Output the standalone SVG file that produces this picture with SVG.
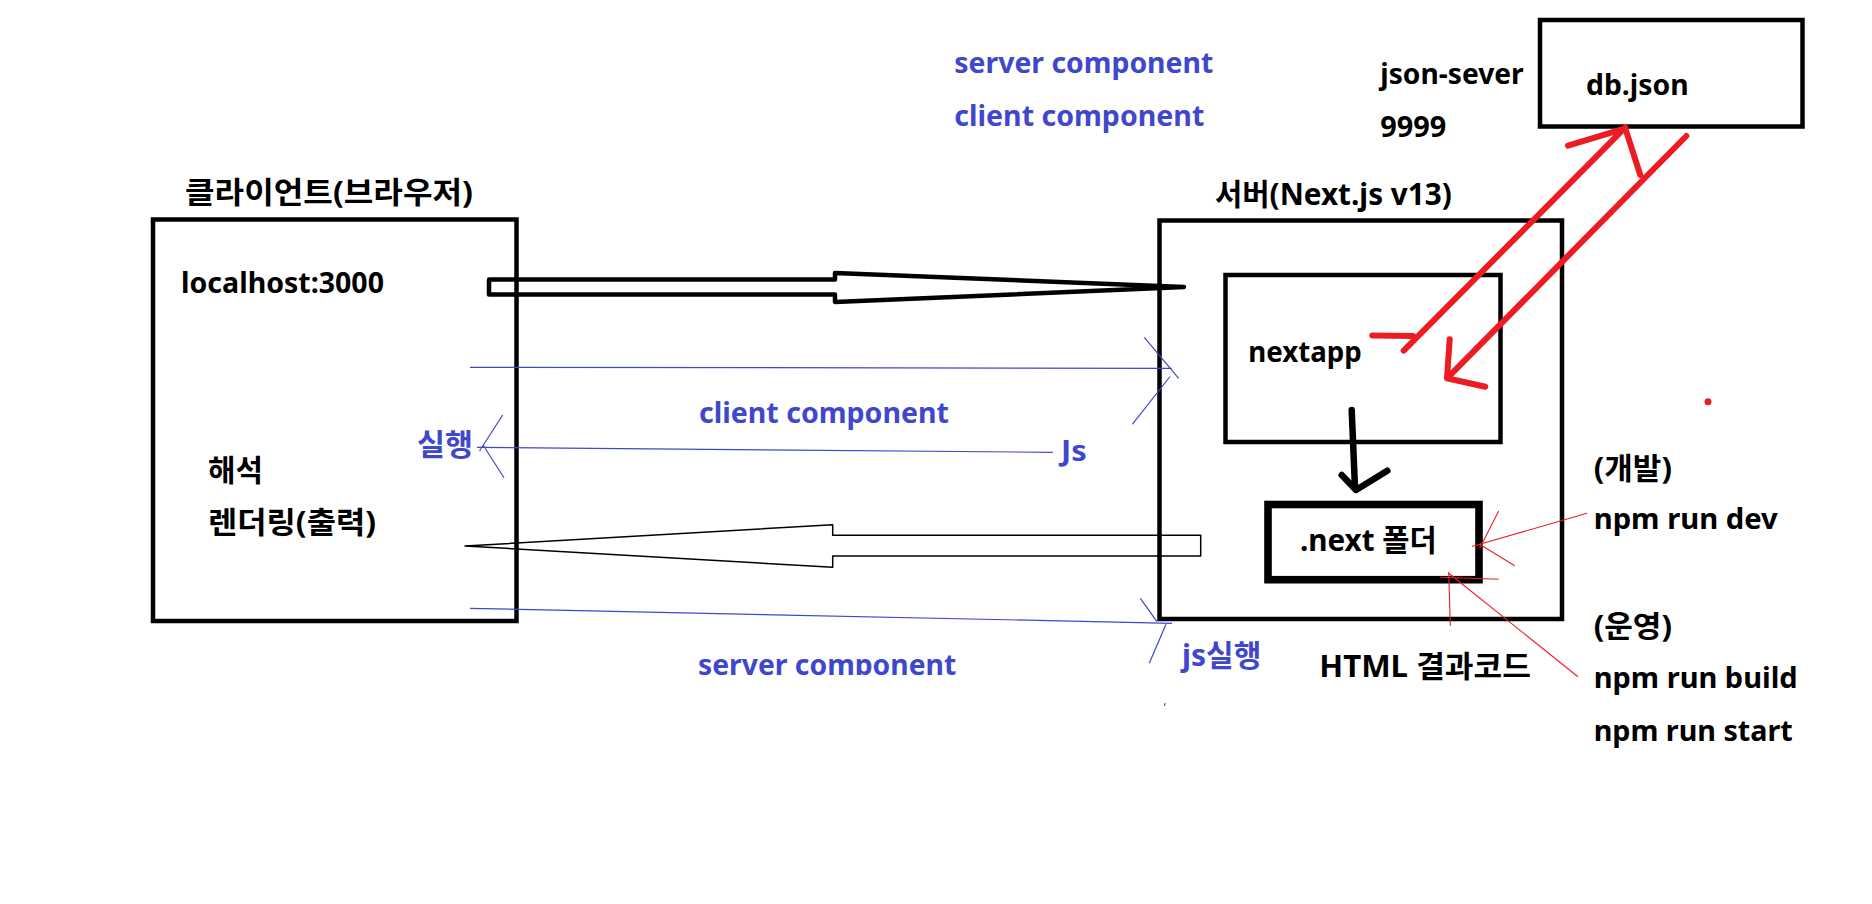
<svg xmlns="http://www.w3.org/2000/svg" width="1872" height="904" viewBox="0 0 1872 904">
<style>
text{font-family:"Noto Sans","Noto Sans CJK KR",sans-serif;font-weight:700;fill:#000}
.ko{font-size:30px}
.la{font-size:28px}
.blue{fill:#3F48CC}
.box{fill:none;stroke:#000;stroke-width:4.5}
.thin-b{fill:none;stroke:#3F48CC;stroke-width:1.2}
.thin-r{fill:none;stroke:#ED1C24;stroke-width:1.1}
.thick-r{fill:none;stroke:#ED1C24;stroke-width:6;stroke-linecap:round;stroke-linejoin:round}
</style>
<defs>
<clipPath id="cutBottom"><rect x="0" y="0" width="1872" height="675"/></clipPath>
</defs>
<rect width="1872" height="904" fill="#fff"/>

<g id="client">
<text class="ko" x="185" y="203" textLength="288" lengthAdjust="spacingAndGlyphs">클라이언트(브라우저)</text>
<rect class="box" x="153" y="219.5" width="363.5" height="401.5"/>
<text class="la" x="181" y="292.7" textLength="203" lengthAdjust="spacingAndGlyphs">localhost:3000</text>
<text class="ko" x="208" y="481" textLength="55" lengthAdjust="spacingAndGlyphs">해석</text>
<text class="ko" x="208" y="533" textLength="168" lengthAdjust="spacingAndGlyphs">렌더링(출력)</text>
</g>

<g id="server">
<text class="ko" x="1215" y="205" textLength="236.7" lengthAdjust="spacingAndGlyphs">서버(Next.js v13)</text>
<rect class="box" x="1159.5" y="220.5" width="402.5" height="398.5"/>
</g>

<g id="nextapp">
<rect class="box" x="1225.5" y="275" width="275" height="167"/>
<text class="la" x="1248.3" y="361.7" textLength="113.4" lengthAdjust="spacingAndGlyphs">nextapp</text>
</g>

<g id="next-folder">
<rect x="1268" y="504.5" width="211" height="75.2" fill="none" stroke="#000" stroke-width="7.6"/>
<text class="ko" x="1300" y="550.7" textLength="136.7" lengthAdjust="spacingAndGlyphs">.next 폴더</text>
</g>

<g id="db-json">
<rect class="box" x="1540" y="20" width="262.5" height="106.5"/>
<text class="la" x="1586" y="95" textLength="102.7" lengthAdjust="spacingAndGlyphs">db.json</text>
</g>

<g id="labels">
<text class="la blue" x="954.3" y="73.3" textLength="259" lengthAdjust="spacingAndGlyphs">server component</text>
<text class="la blue" x="954.3" y="126" textLength="250" lengthAdjust="spacingAndGlyphs">client component</text>
<text class="la" x="1380.3" y="84" textLength="143.4" lengthAdjust="spacingAndGlyphs">json-sever</text>
<text class="la" x="1380.3" y="136.7" textLength="66" lengthAdjust="spacingAndGlyphs">9999</text>
<text class="ko blue" x="417" y="455" textLength="56" lengthAdjust="spacingAndGlyphs">실행</text>
<text class="la blue" x="699" y="422.7" textLength="250" lengthAdjust="spacingAndGlyphs">client component</text>
<text class="la blue" x="1061" y="460.7" textLength="25.7" lengthAdjust="spacingAndGlyphs">Js</text>
<text class="la blue" x="698" y="675" textLength="258.3" lengthAdjust="spacingAndGlyphs" clip-path="url(#cutBottom)">server component</text>
<text class="ko blue" x="1182" y="666" textLength="79.3" lengthAdjust="spacingAndGlyphs">js실행</text>
<text class="ko" x="1319.3" y="677.3" textLength="211.7" lengthAdjust="spacingAndGlyphs">HTML 결과코드</text>
<text class="ko" x="1593.7" y="479.3" textLength="78.3" lengthAdjust="spacingAndGlyphs">(개발)</text>
<text class="la" x="1593.7" y="529.3" textLength="184" lengthAdjust="spacingAndGlyphs">npm run dev</text>
<text class="ko" x="1593.7" y="636.7" textLength="78.3" lengthAdjust="spacingAndGlyphs">(운영)</text>
<text class="la" x="1593.7" y="688.3" textLength="204" lengthAdjust="spacingAndGlyphs">npm run build</text>
<text class="la" x="1593.7" y="741" textLength="199" lengthAdjust="spacingAndGlyphs">npm run start</text>
</g>

<g id="connectors">
<!-- big request arrow -->
<polygon points="489,279.5 835,279.5 835,273 1184,287 835,302 835,294.5 489,294.5" fill="none" stroke="#000" stroke-width="4.5" stroke-linejoin="round"/>
<!-- HTML response arrow -->
<polygon points="1200.7,535.3 832.7,535.3 832.7,524.7 465,546 832.7,567.3 832.7,556 1200.7,556" fill="none" stroke="#000" stroke-width="1.5" stroke-linejoin="round"/>
<!-- blue line 1 -->
<path class="thin-b" d="M470,367.3 L1171.7,368.3 M1144.3,337.3 L1178.7,378.3 M1170,376.5 L1132.3,424.3"/>
<!-- blue line 2 (Js -> 실행) -->
<path class="thin-b" d="M477,447.3 L1052.7,452.3 M502.7,415 L479.5,451 M483,445 L504,477.7"/>
<!-- blue line 3 -->
<path class="thin-b" d="M470,608.3 L1172,623.3 M1140.3,598.3 L1157,621.7 M1166,624.3 L1149.3,663.3 M1165,703 L1164.5,706"/>
<!-- nextapp -> .next -->
<path d="M1351.7,410 L1355,488 M1341.7,475 L1356,490 L1387.3,470.7" fill="none" stroke="#000" stroke-width="6.5" stroke-linecap="round" stroke-linejoin="round"/>
<!-- red request to db.json -->
<path class="thick-r" d="M1403.7,350.7 L1625.3,127.3 M1568,145.7 L1625.3,128.3 L1640.3,175 M1372.3,335.5 L1413,336"/>
<!-- red response from db.json -->
<path class="thick-r" d="M1686.3,136 L1448.7,376.7 M1449.7,339.3 L1447,378.3 L1485.3,386.7"/>
<circle cx="1708" cy="401.7" r="3.5" fill="#ED1C24"/>
<!-- thin red pointers to .next -->
<path class="thin-r" d="M1587,513.3 L1472,546.5 M1498.7,511 L1479.7,548.3 M1479.7,544.3 L1514.7,565.7 M1440.3,577.3 L1498.7,579.3 M1448.7,571.7 L1450.3,625.7 M1448.7,573.3 L1578,676.7"/>
</g>
</svg>
